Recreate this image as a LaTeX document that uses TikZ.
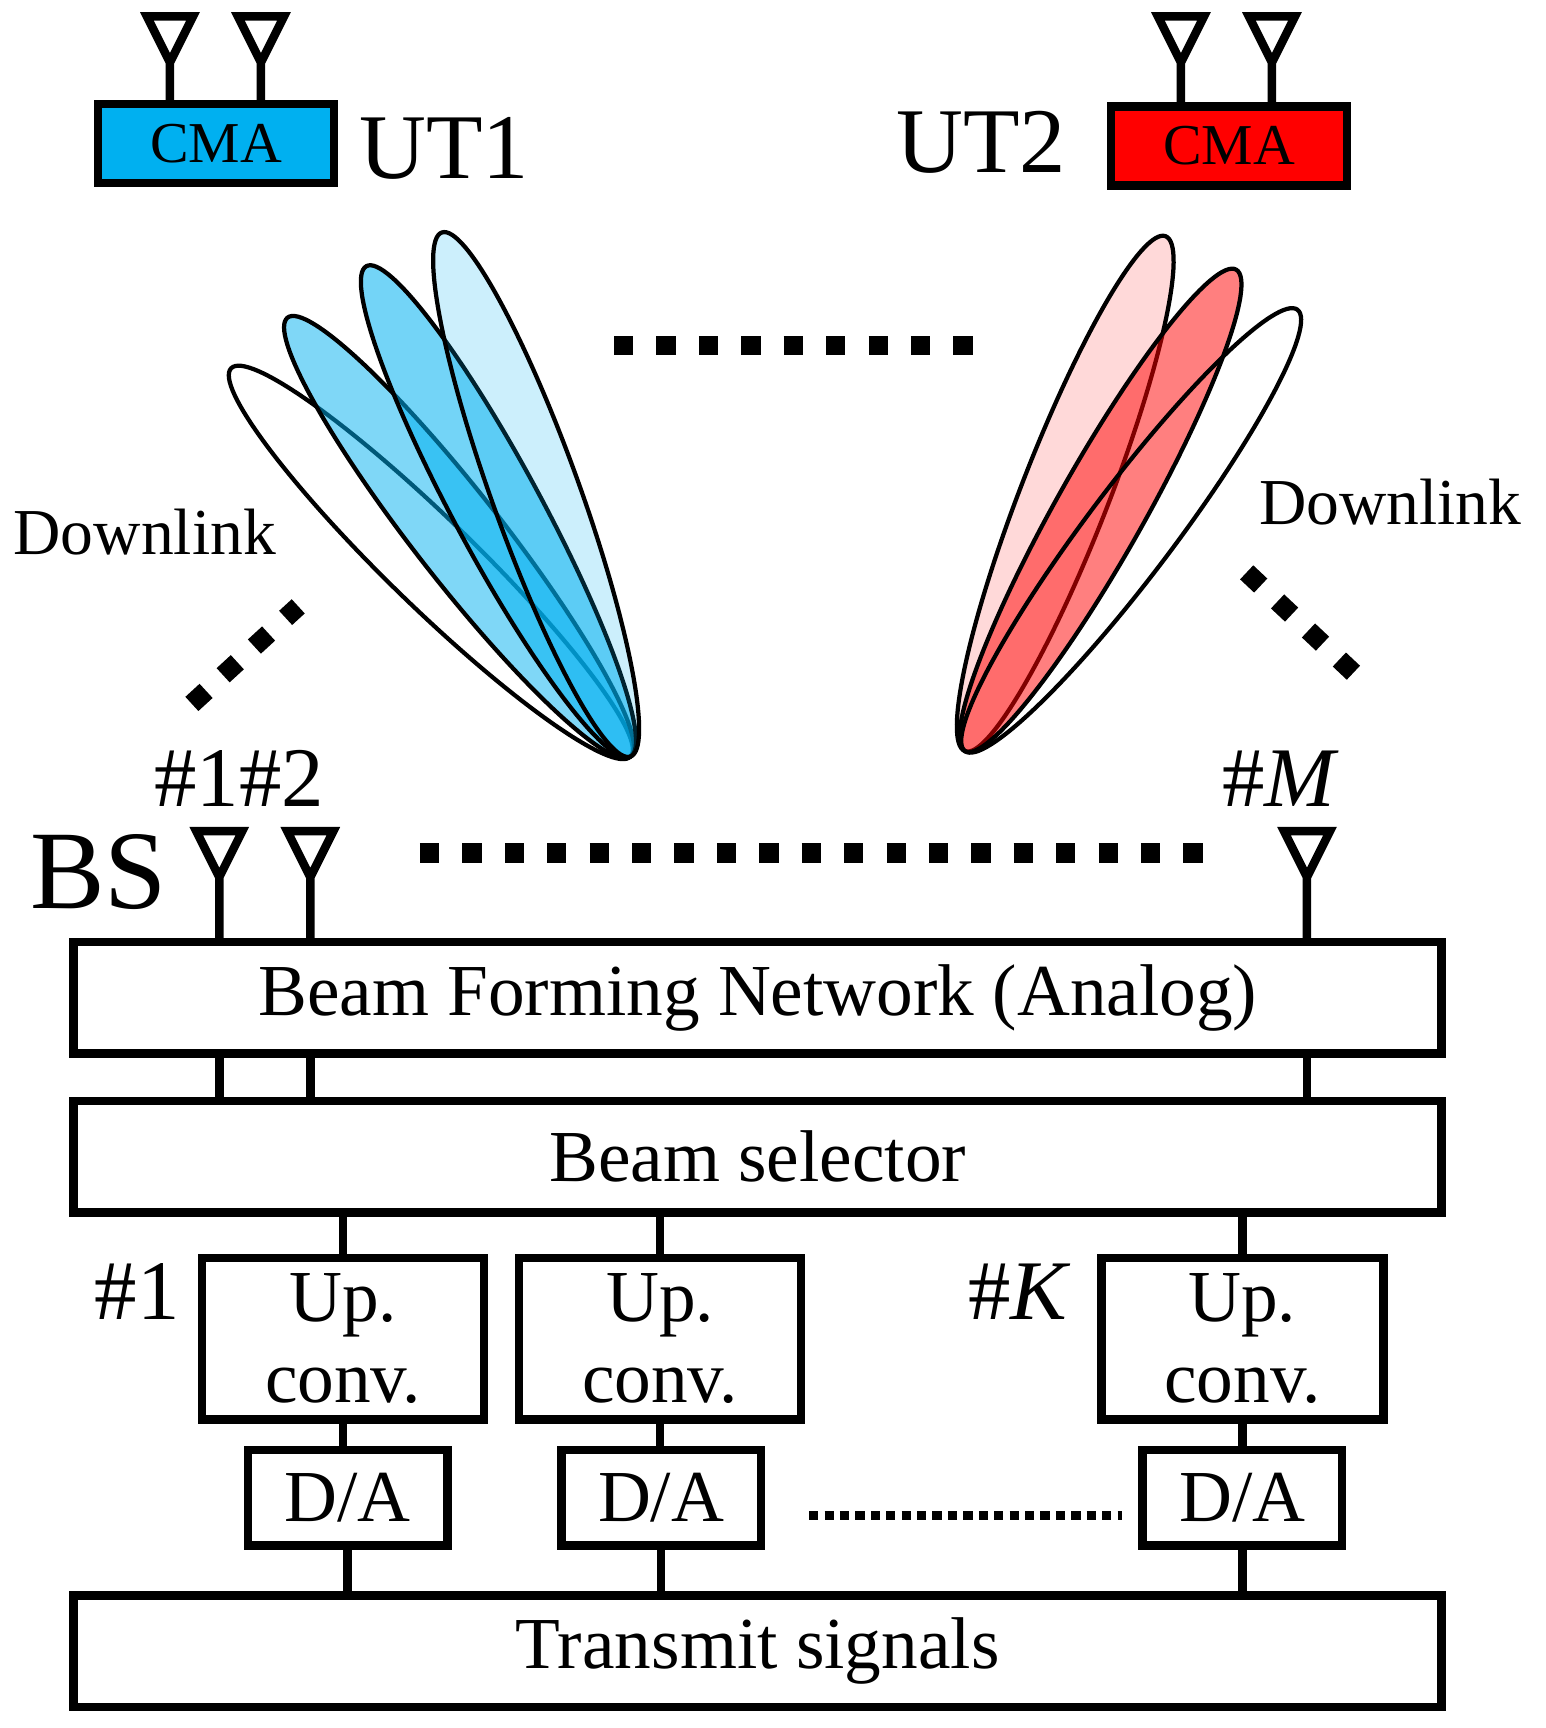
\documentclass[tikz,border=0pt]{standalone}
\usepackage{fontspec}
\setmainfont{Liberation Serif}
\usetikzlibrary{positioning,calc}
\definecolor{utblue}{RGB}{0,176,240}
\tikzset{
  block/.style   = {draw, line width=2.2pt, rectangle, inner sep=0pt, font=\fontsize{19}{22}\selectfont},
  wide/.style    = {block, minimum width=12.47cm, minimum height=1.02cm},
  upconv/.style  = {block, minimum width=2.57cm, minimum height=1.47cm, align=center, font=\fontsize{19}{21}\selectfont},
  da/.style      = {block, minimum width=1.82cm, minimum height=0.87cm},
  cma/.style     = {block, minimum width=2.15cm, minimum height=0.72cm, font=\fontsize{15}{17}\selectfont},
  lbl/.style     = {inner sep=0pt},
  link/.style    = {line width=2.2pt},
  squares/.style = {line width=5pt, dash pattern=on 5pt off 6pt},
  beam/.style    = {draw, line width=1.1pt}
}
\newcommand\antenna[2]{% tip (x,y) of the triangle
  \draw[link] (#1-21,#2) -- (#1+21,#2) -- (#1,#2+42) -- cycle (#1,#2+42) -- (#1,#2+100);}
\begin{document}
\begin{tikzpicture}[x=0.01cm,y=-0.01cm]
\useasboundingbox (0,0) rectangle (1410,1576);

% user terminals
\antenna{155}{15}\antenna{238}{15}
\node[cma, fill=utblue] (cma1) at (197,131) {CMA};
\node[lbl, font=\fontsize{24}{26}\selectfont] (ut1) at (405,135) {UT1};
\antenna{1077}{15}\antenna{1160}{15}
\node[cma, fill=red] (cma2) at (1121,133) {CMA};
\node[lbl, font=\fontsize{24}{26}\selectfont] (ut2) at (895,130) {UT2};

% beams
\foreach \ang/\op in {135.8/0, 128/0.5, 118.3/0.55, 109.8/0.2}
  \draw[beam, fill=utblue, fill opacity=\op]
    (575,690) ++(-\ang:254) ellipse [x radius=254, y radius=40, rotate=\ang];
\foreach \ang/\op in {68.7/0.15, 60.6/0.5, 53/0}
  \draw[beam, fill=red, fill opacity=\op]
    (880,685) ++(-\ang:252) ellipse [x radius=252, y radius=40, rotate=\ang];
\draw[squares] (560,315) -- (900,315);
\node[lbl, font=\fontsize{17}{20}\selectfont] (dl1) at (132,485) {Downlink};
\node[lbl, font=\fontsize{17}{20}\selectfont] (dl2) at (1268,458) {Downlink};
\draw[squares] (175,642) -- (272,553);
\draw[squares] (1137,522) -- (1238,617);

% base station
\node[lbl, font=\fontsize{22}{24}\selectfont] (n12) at (218,710) {\#1\#2};
\node[lbl, font=\fontsize{22}{24}\selectfont] (nM) at (1168,710) {\#\textit{M}};
\node[lbl, font=\fontsize{29}{32}\selectfont] (bs) at (90,795) {BS};
\antenna{200}{758}\antenna{283}{758}\antenna{1192}{758}
\draw[squares] (383,778) -- (1112,778);

\node[wide] (bfn) at (691,910) {Beam Forming Network (Analog)};
\node[wide] (sel) at (691,1055) {Beam selector};
\foreach \x in {200,283,1192}
  \draw[link] (bfn.south -| \x,0) -- (sel.north -| \x,0);

\node[upconv] (up1) at (313,1221) {Up.\\conv.};
\node[upconv] (up2) at (602,1221) {Up.\\conv.};
\node[upconv] (up3) at (1133,1221) {Up.\\conv.};
\node[lbl, font=\fontsize{22}{24}\selectfont] (k1) at (125,1178) {\#1};
\node[lbl, font=\fontsize{22}{24}\selectfont] (kK) at (930,1178) {\#\textit{K}};
\node[da] (da1) at (317,1366) {D/A};
\node[da] (da2) at (603,1366) {D/A};
\node[da] (da3) at (1133,1366) {D/A};
\node[wide] (tx) at (691,1506) {Transmit signals};

\foreach \i in {1,2,3} {
  \draw[link] (up\i.north) -- (sel.south -| up\i.north);
  \draw[link] (up\i.south) -- (da\i.north -| up\i.south);
  \draw[link] (da\i.south) -- (tx.north -| da\i.south);
}
\draw[line width=2.4pt, dash pattern=on 2.4pt off 1.6pt] ($(da2.east)+(40,16)$) -- ($(da3.west)+(-15,16)$);
\end{tikzpicture}
\end{document}
